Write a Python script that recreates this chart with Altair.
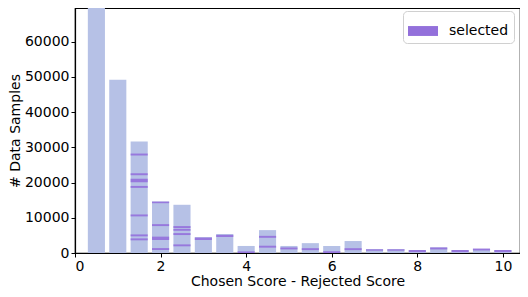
import altair as alt
import pandas as pd

# histogram bins (centers) and counts
bin_centers = [0.5, 1.0, 1.5, 2.0, 2.5, 3.0, 3.5, 4.0, 4.5, 5.0,
               5.5, 6.0, 6.5, 7.0, 7.5, 8.0, 8.5, 9.0, 9.5, 10.0]
counts = [72000, 49200, 31700, 14600, 13700, 4500, 5400, 2000, 6500, 2000,
          2800, 2000, 3400, 1100, 1100, 850, 1600, 850, 1100, 850]

# selected sample segments: bin, low, high
seg_bin = [1.5, 1.5, 1.5, 1.5, 1.5, 1.5, 1.5,
           2.0, 2.0, 2.0, 2.0,
           2.5, 2.5, 2.5, 2.5,
           3.0, 3.5, 4.0, 4.5, 4.5, 5.0, 5.5, 6.0, 6.5,
           7.0, 7.5, 8.0, 8.5, 9.0, 9.5, 10.0]
seg_lo = [27700, 22100, 20100, 18500, 10400, 4730, 3600,
          14150, 7650, 3700, 850,
          7100, 6320, 5100, 1900,
          3700, 4550, 0, 4320, 1520, 1020, 820, 0, 820,
          650, 650, 250, 1020, 250, 720, 250]
seg_hi = [28250, 22650, 21100, 19050, 10950, 5280, 4150,
          14600, 8200, 4650, 1400,
          7650, 6870, 5650, 2450,
          4400, 5150, 450, 4870, 2070, 1570, 1370, 500, 1370,
          1050, 1050, 850, 1570, 850, 1270, 850]

HALF = 0.2
bars = pd.DataFrame({
    "x": [c - HALF for c in bin_centers],
    "x2": [c + HALF for c in bin_centers],
    "count": counts,
})
segs = pd.DataFrame({
    "x": [c - HALF for c in seg_bin],
    "x2": [c + HALF for c in seg_bin],
    "lo": seg_lo,
    "hi": seg_hi,
    "label": ["selected"] * len(seg_bin),
})

xscale = alt.Scale(domain=[0, 10.4], nice=False, zero=False)
yscale = alt.Scale(domain=[0, 69600], nice=False)

xaxis = alt.Axis(values=[0, 2, 4, 6, 8, 10], title="Chosen Score - Rejected Score",
                 grid=False, format="d")
yaxis = alt.Axis(values=[0, 10000, 20000, 30000, 40000, 50000, 60000],
                 title="# Data Samples", grid=False, format="d")

base_bars = alt.Chart(bars).mark_rect(color="#b6c1e6", clip=True).encode(
    x=alt.X("x:Q", scale=xscale, axis=xaxis),
    x2="x2:Q",
    y=alt.Y("count:Q", scale=yscale, axis=yaxis),
    y2=alt.datum(0),
)

sel = alt.Chart(segs).mark_rect(clip=True, opacity=0.9).encode(
    x=alt.X("x:Q", scale=xscale),
    x2="x2:Q",
    y=alt.Y("lo:Q", scale=yscale),
    y2="hi:Q",
    color=alt.Color("label:N",
                    scale=alt.Scale(domain=["selected"], range=["#9370db"]),
                    legend=alt.Legend(
                        title=None, orient="none", legendX=328, legendY=3,
                        symbolType="M-1,-0.33L1,-0.33L1,0.33L-1,0.33Z",
                        symbolSize=900, symbolOpacity=1, symbolStrokeWidth=0,
                        labelFontSize=14, labelFont="DejaVu Sans", labelColor="black",
                        fillColor="white", strokeColor="#d0d0d0", cornerRadius=4,
                        padding=5, labelOffset=11)),
)

chart = alt.layer(base_bars, sel).properties(
    width=445, height=245,
    autosize=alt.AutoSizeParams(type="none"),
    padding={"left": 67, "top": 0, "right": 0, "bottom": 36},
).configure_view(stroke="black", strokeWidth=1.2).configure_axis(
    labelFont="DejaVu Sans", titleFont="DejaVu Sans",
    labelFontSize=14, titleFontSize=14, titleFontWeight="normal",
    labelColor="black", titleColor="black",
    domainColor="black", tickColor="black", tickSize=4, domainWidth=1.2,
    labelPadding=2,
).configure_axisY(titlePadding=2).configure_axisX(titlePadding=1)

chart.save("out.html", embed_options={"renderer": "svg", "actions": False})
